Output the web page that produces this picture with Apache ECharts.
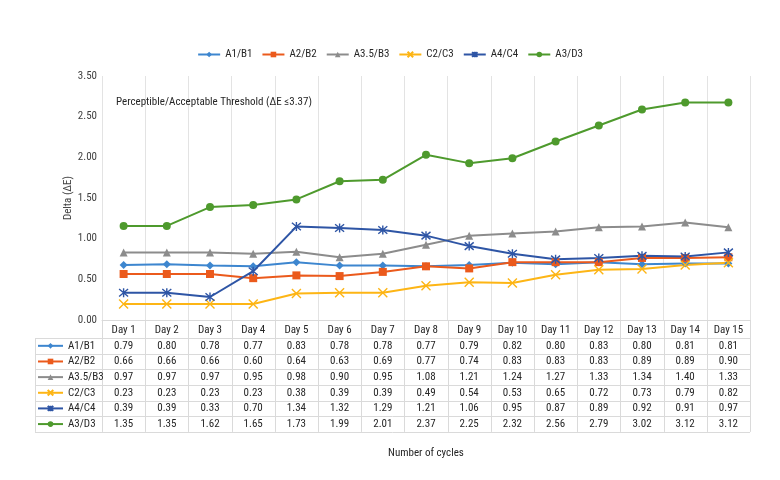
<!DOCTYPE html>
<html>
<head>
<meta charset="utf-8">
<script src="https://cdn.jsdelivr.net/npm/echarts@6/dist/echarts.min.js"></script>
<style>
html,body{margin:0;padding:0;background:#fff;}
#chart{width:780px;height:480px;}
</style>
</head>
<body>
<div id="chart"></div>
<script>
const categories = ["Day 1","Day 2","Day 3","Day 4","Day 5","Day 6","Day 7","Day 8","Day 9","Day 10","Day 11","Day 12","Day 13","Day 14","Day 15"];
const seriesNames = ["A1/B1","A2/B2","A3.5/B3","C2/C3","A4/C4","A3/D3"];
const a1b1 = [0.79,0.80,0.78,0.77,0.83,0.78,0.78,0.77,0.79,0.82,0.80,0.83,0.80,0.81,0.81];
const a2b2 = [0.66,0.66,0.66,0.60,0.64,0.63,0.69,0.77,0.74,0.83,0.83,0.83,0.89,0.89,0.90];
const a35b3 = [0.97,0.97,0.97,0.95,0.98,0.90,0.95,1.08,1.21,1.24,1.27,1.33,1.34,1.40,1.33];
const c2c3 = [0.23,0.23,0.23,0.23,0.38,0.39,0.39,0.49,0.54,0.53,0.65,0.72,0.73,0.79,0.82];
const a4c4 = [0.39,0.39,0.33,0.70,1.34,1.32,1.29,1.21,1.06,0.95,0.87,0.89,0.92,0.91,0.97];
const a3d3 = [1.35,1.35,1.62,1.65,1.73,1.99,2.01,2.37,2.25,2.32,2.56,2.79,3.02,3.12,3.12];
const seriesValues = [a1b1,a2b2,a35b3,c2c3,a4c4,a3d3];
const yTickLabels = ["0.00","0.50","1.00","1.50","2.00","2.50","3.50"];
const yMax = 3.5;
const annotationText = "Perceptible/Acceptable Threshold (\u0394E \u22643.37)";

const colors = ["#3D86CF","#EB5A1C","#8C8C8C","#FDB515","#2E55A5","#4E9A2D"];

// pick the narrowest installed condensed font
function pickFont() {
  const cands = ['Liberation Sans Narrow','Roboto Condensed','Open Sans Condensed','DejaVu Sans Condensed','Liberation Sans'];
  const c = document.createElement('canvas').getContext('2d');
  const s = 'Perceptible/Acceptable Threshold 0123456789';
  function w(f){ c.font = '12px ' + f; return c.measureText(s).width; }
  const wm = w('monospace'), ws = w('serif');
  for (const f of cands) {
    const a = w('"' + f + '", monospace'), b = w('"' + f + '", serif');
    if (Math.abs(a - wm) > 0.5 && Math.abs(b - ws) > 0.5) return '"' + f + '"';
  }
  return 'sans-serif';
}
const FONT = pickFont() + ', sans-serif';
const FS = (function(){
  const c = document.createElement('canvas').getContext('2d');
  c.font = '12px ' + FONT;
  const w = c.measureText(annotationText).width;
  return Math.max(10, Math.min(12, Math.round(12 * 196 / w * 2) / 2));
})();

const symX = 'path://M0,0L10,10M10,0L0,10';
const symAst = 'path://M0,0L10,10M10,0L0,10M5,-1L5,11';
const symbols = ['diamond','rect','triangle',symX,symAst,'circle'];
const symSizes = [8,8,8,9,9,8];

const GRID = {left:102, right:30, top:76, bottom:160};
const yStep = yMax / (yTickLabels.length - 1);
const headerBottom = 338;
const rowH = 15.65;
const tableLeft = 35;

const chart = echarts.init(document.getElementById('chart'));

const series = seriesNames.map((name, i) => {
  const isPath = i === 3 || i === 4;
  return {
    name: name,
    type: 'line',
    data: seriesValues[i],
    symbol: symbols[i],
    symbolSize: symSizes[i],
    showAllSymbol: true,
    lineStyle: {color: colors[i], width: 2},
    itemStyle: isPath ? {color: 'rgba(0,0,0,0)', borderColor: colors[i], borderWidth: 1.4}
                      : {color: colors[i], borderColor: colors[i], borderWidth: 0},
    emphasis: {disabled: true},
    z: 3
  };
});

const legends = [{
  data: seriesNames,
  top: 44,
  left: 'center',
  itemWidth: 22,
  itemHeight: 7,
  itemGap: 9,
  selectedMode: false,
  textStyle: {fontFamily: FONT, fontSize: FS, color: '#262626'}
}];
seriesNames.forEach((n, r) => {
  legends.push({
    data: [n],
    orient: 'vertical',
    left: 37,
    top: headerBottom + (r + 0.5) * rowH - 7,
    itemWidth: 25,
    itemHeight: 7,
    padding: 0,
    selectedMode: false,
    textStyle: {fontFamily: FONT, fontSize: FS, color: '#262626', lineHeight: 14}
  });
});

const option = {
  animation: false,
  color: colors,
  textStyle: {fontFamily: FONT},
  grid: GRID,
  legend: legends,
  xAxis: {
    type: 'category',
    data: categories,
    boundaryGap: true,
    axisLine: {show: true, lineStyle: {color: '#D9D9D9'}},
    axisTick: {show: false},
    splitLine: {show: true, lineStyle: {color: '#E3E3E3', width: 1}},
    axisLabel: {interval: 0, margin: 5, fontSize: FS, color: '#262626', fontFamily: FONT},
    name: 'Number of cycles',
    nameLocation: 'middle',
    nameGap: 128,
    nameTextStyle: {fontSize: FS, color: '#262626', fontFamily: FONT}
  },
  yAxis: {
    type: 'value',
    min: 0,
    max: yMax,
    interval: yStep,
    axisLine: {show: false},
    axisTick: {show: false},
    splitLine: {show: false},
    axisLabel: {
      margin: 5,
      fontSize: FS,
      color: '#404040',
      fontFamily: FONT,
      formatter: function (v) {
        const idx = Math.round(v / yStep);
        return yTickLabels[idx] !== undefined ? yTickLabels[idx] : '';
      }
    },
    name: 'Delta (\u0394E)',
    nameLocation: 'middle',
    nameGap: 28,
    nameMoveOverlap: false,
    nameRotate: 90,
    nameTextStyle: {fontSize: FS, color: '#404040', fontFamily: FONT}
  },
  series: series
};
chart.setOption(option);

function buildTable() {
  const c0 = chart.convertToPixel({xAxisIndex: 0}, 0);
  const c1 = chart.convertToPixel({xAxisIndex: 0}, 1);
  const band = c1 - c0;
  const gridLeft = c0 - band / 2;
  const gridRight = gridLeft + band * categories.length;
  const plotBottom = chart.convertToPixel({yAxisIndex: 0}, 0);
  const tableBottom = headerBottom + rowH * seriesNames.length;
  const els = [];
  const lineStyle = {stroke: '#DADADA', lineWidth: 1};
  for (let r = 0; r <= seriesNames.length; r++) {
    const y = Math.round(headerBottom + r * rowH) + 0.5;
    els.push({type: 'line', silent: true, shape: {x1: tableLeft, y1: y, x2: gridRight, y2: y}, style: lineStyle});
  }
  els.push({type: 'line', silent: true, shape: {x1: tableLeft + 0.5, y1: headerBottom, x2: tableLeft + 0.5, y2: tableBottom}, style: lineStyle});
  for (let i = 0; i <= categories.length; i++) {
    const x = Math.round(gridLeft + i * band) + 0.5;
    els.push({type: 'line', silent: true, shape: {x1: x, y1: plotBottom, x2: x, y2: tableBottom}, style: lineStyle});
  }
  seriesValues.forEach((vals, r) => {
    const yc = headerBottom + (r + 0.5) * rowH;
    vals.forEach((v, i) => {
      const xc = chart.convertToPixel({xAxisIndex: 0}, i);
      els.push({type: 'text', silent: true, x: xc, y: yc,
        style: {text: v.toFixed(2), fill: '#262626', font: FS + 'px ' + FONT, align: 'center', verticalAlign: 'middle'}});
    });
  });
  els.push({type: 'text', silent: true, x: 116, y: 102,
    style: {text: annotationText, fill: '#262626', font: FS + 'px ' + FONT, align: 'left', verticalAlign: 'middle'}});
  chart.setOption({graphic: {elements: els}});
}
buildTable();
</script>
</body>
</html>
